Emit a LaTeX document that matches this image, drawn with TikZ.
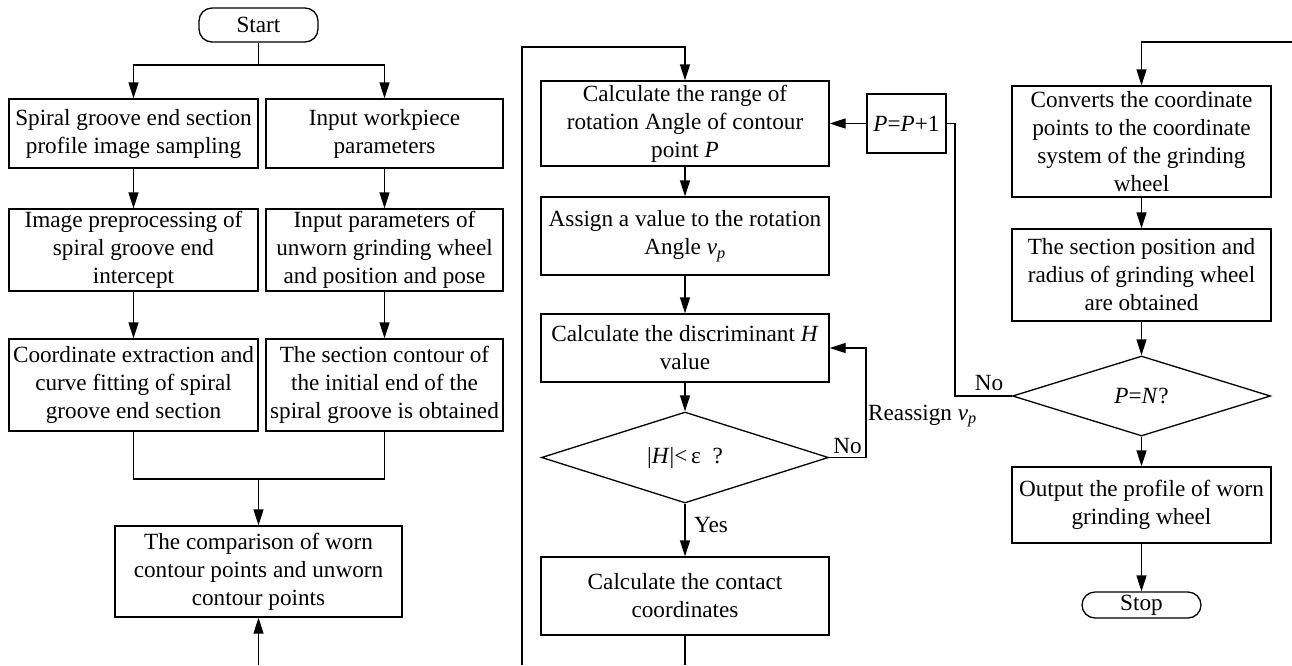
\documentclass[tikz,border=0pt]{standalone}
\usepackage{fontspec}
\setmainfont{Liberation Serif}
\usetikzlibrary{shapes.geometric,arrows.meta}
\begin{document}
\begin{tikzpicture}[x=1pt,y=-1pt,
  every node/.style={font=\fontsize{23.2}{28}\selectfont},
  box/.style={draw,line width=1.3pt,inner sep=0pt,align=center},
  term/.style={draw,line width=1.3pt,inner sep=0pt,rounded corners=13pt,align=center},
  dia/.style={draw,line width=1.3pt,diamond,aspect=3,inner sep=0pt,align=center},
  conn/.style={line width=1.3pt},
  arr/.style={line width=1.3pt,-{Triangle[length=16pt,width=10pt]}},
  lbl/.style={inner sep=0pt}
]
\useasboundingbox (0,0) rectangle (1292,665);
% left column
\node[term,minimum width=119pt,minimum height=34pt] (start) at (258.5,25) {Start};
\node[box,minimum width=249pt,minimum height=69pt] (a1) at (133.5,133.5) {Spiral groove end section\\profile image sampling};
\node[box,minimum width=237pt,minimum height=69pt] (b1) at (384.5,133.5) {Input workpiece\\parameters};
\node[box,minimum width=249pt,minimum height=82pt] (a2) at (133.5,250) {Image preprocessing of\\spiral groove end\\intercept};
\node[box,minimum width=237pt,minimum height=82pt] (b2) at (384.5,250) {Input parameters of\\unworn grinding wheel\\and position and pose};
\node[box,minimum width=249pt,minimum height=92pt] (a3) at (133.5,385) {Coordinate extraction and\\curve fitting of spiral\\groove end section};
\node[box,minimum width=237pt,minimum height=92pt] (b3) at (384.5,385) {The section contour of\\the initial end of the\\spiral groove is obtained};
\node[box,minimum width=287pt,minimum height=91pt] (cmp) at (258.5,571.5) {The comparison of worn\\contour points and unworn\\contour points};
\coordinate (split) at (258.5,65);
\coordinate (merge) at (258.5,479);
\coordinate (cmpin) at (258.5,665);
\draw[conn] (start.south) -- (split);
\draw[arr] (split) -| (a1.north);
\draw[arr] (split) -| (b1.north);
\draw[arr] (a1) -- (a2);
\draw[arr] (b1) -- (b2);
\draw[arr] (a2) -- (a3);
\draw[arr] (b2) -- (b3);
\draw[conn] (a3.south) |- (merge);
\draw[conn] (b3.south) |- (merge);
\draw[arr] (merge) -- (cmp.north);
\draw[arr] (cmpin) -- (cmp.south);
% middle column
\node[box,minimum width=288pt,minimum height=85pt] (c1) at (685,123.5) {Calculate the range of\\rotation Angle of contour\\point \textit{P}};
\node[box,minimum width=288pt,minimum height=78pt] (c2) at (685,236) {Assign a value to the rotation\\Angle \textit{v}\textsubscript{\textit{p}}};
\node[box,minimum width=288pt,minimum height=68pt] (c3) at (685,348) {Calculate the discriminant \textit{H}\\value};
\node[dia,minimum width=287pt,minimum height=91pt] (d1) at (685,457.5) {|\textit{H}|<\,ε\ \ ?};
\node[box,minimum width=288pt,minimum height=78pt] (c4) at (685,596) {Calculate the contact\\coordinates};
\node[box,minimum width=79pt,minimum height=59pt] (pp) at (906.5,123.5) {\textit{P}=\textit{P}+1};
\coordinate (loopin) at (522,665);
\coordinate (loopa) at (522,47);
\coordinate (loopb) at (685,47);
\coordinate (c4out) at (685,665);
\draw[arr] (loopin) -- (loopa) -- (loopb) -- (c1.north);
\draw[arr] (c1) -- (c2);
\draw[arr] (c2) -- (c3);
\draw[arr] (c3) -- (d1);
\draw[arr] (d1) -- (c4);
\node[lbl,anchor=west] (yes) at (694,525) {Yes};
\draw[conn] (c4.south) -- (c4out);
\coordinate (ra) at (866,457.5);
\draw[arr] (d1.east) -- (ra) |- (c3.east);
\node[lbl,anchor=south east] (no1) at (862,454) {No};
\node[lbl,anchor=west] (reas) at (868,416) {Reassign \textit{v}\textsubscript{\textit{p}}};
\draw[arr] (pp.west) -- (c1.east);
% right column
\node[box,minimum width=259pt,minimum height=111pt] (e1) at (1141.5,141.5) {Converts the coordinate\\points to the coordinate\\system of the grinding\\wheel};
\node[box,minimum width=259pt,minimum height=92pt] (e2) at (1141.5,275) {The section position and\\radius of grinding wheel\\are obtained};
\node[dia,minimum width=258pt,minimum height=80pt] (d2) at (1141.5,396) {\textit{P}=\textit{N}?};
\node[box,minimum width=259pt,minimum height=76pt] (e3) at (1141.5,505) {Output the profile of worn\\grinding wheel};
\node[term,minimum width=119pt,minimum height=26pt] (stop) at (1141.5,605) {Stop};
\coordinate (topr) at (1292,42);
\coordinate (topc) at (1141.5,42);
\draw[arr] (topr) -- (topc) -- (e1.north);
\draw[arr] (e1) -- (e2);
\draw[arr] (e2) -- (d2);
\draw[arr] (d2) -- (e3);
\draw[arr] (e3) -- (stop);
\coordinate (nb) at (955,396);
\draw[conn] (d2.west) -- (nb) |- (pp.east);
\node[lbl,anchor=south] (no2) at (989,391) {No};
\end{tikzpicture}
\end{document}
